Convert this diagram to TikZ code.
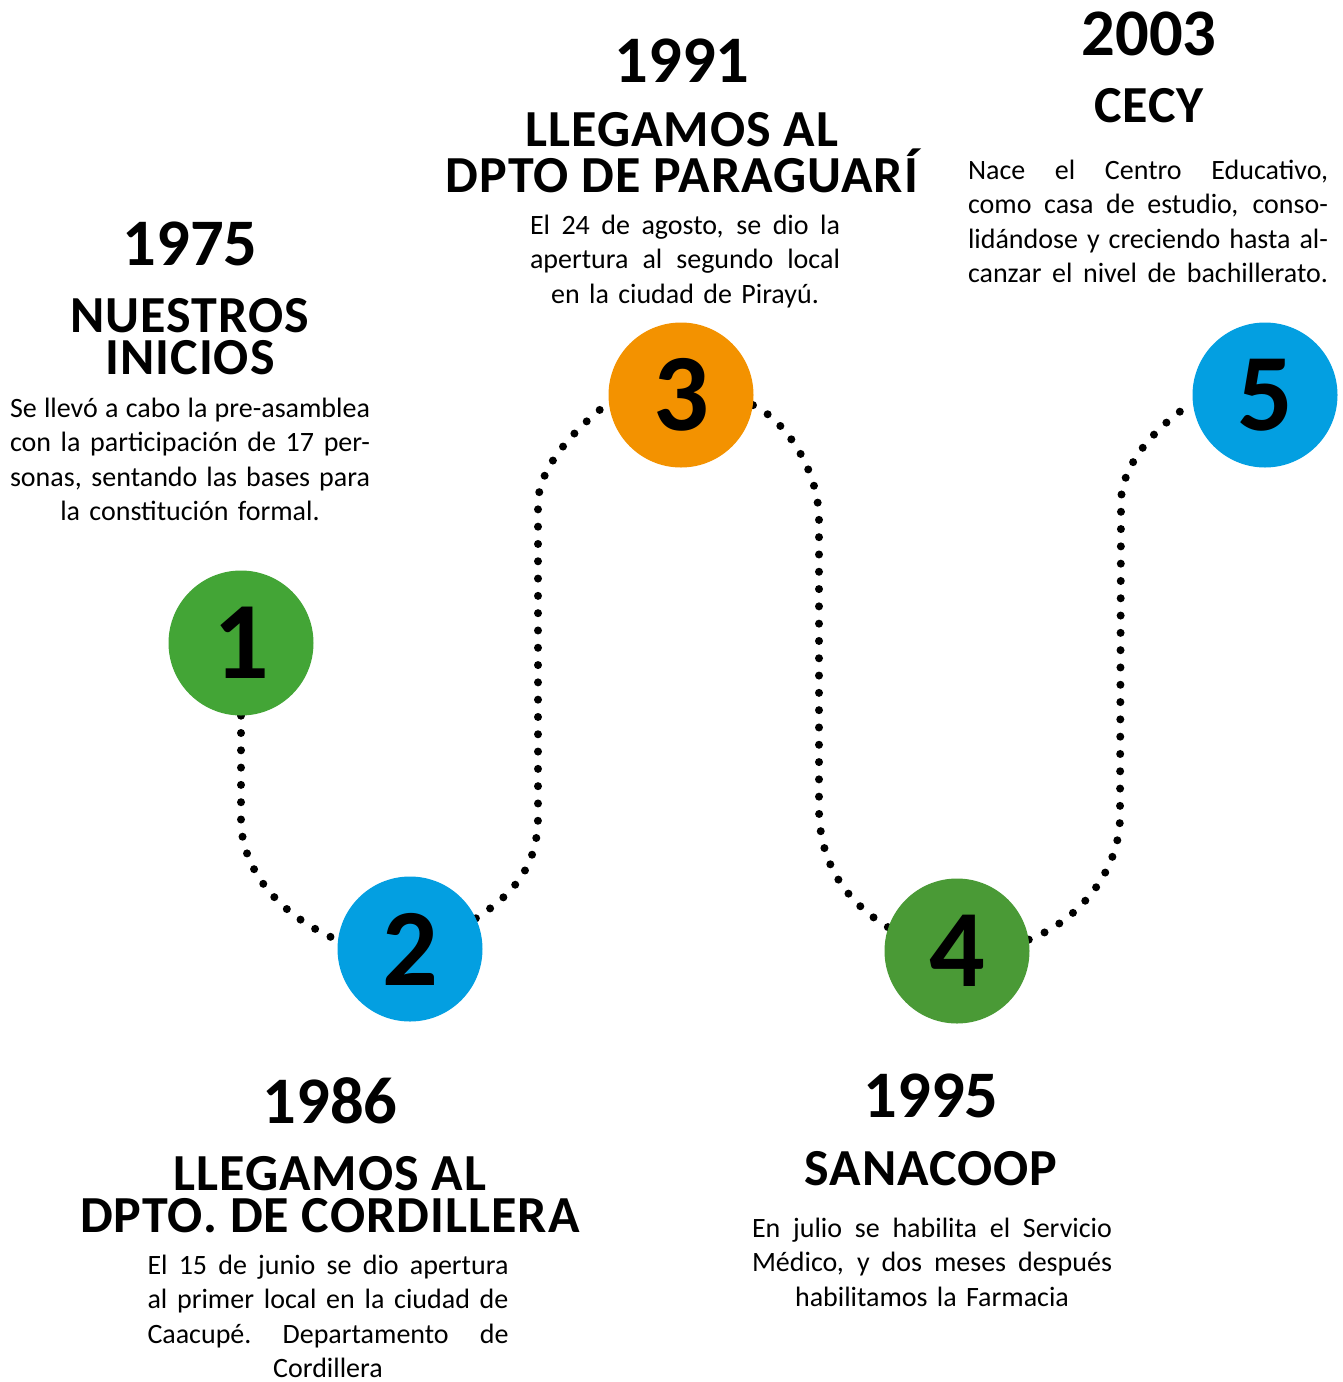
\documentclass[tikz,border=0pt]{standalone}
\usepackage{fontspec}
\setmainfont{Carlito}
\newfontfamily\headfont[LetterSpace=2]{Carlito}
\usetikzlibrary{backgrounds}
\definecolor{greenA}{HTML}{43A536}
\definecolor{greenB}{HTML}{4A9A36}
\definecolor{blueA}{HTML}{039FE1}
\definecolor{orangeA}{HTML}{F39200}
\newcommand{\jline}[1]{\leavevmode\hbox to\linewidth{\spaceskip=0.226em plus 1fil minus 0.1em\xspaceskip=\spaceskip\relax #1}}
\begin{document}
\begin{tikzpicture}[x=1pt, y=-1pt,
numcirc/.style={circle, inner sep=0pt, minimum size=145pt, font=\fontsize{110}{110}\selectfont\bfseries},
yearlbl/.style={anchor=base, inner sep=0pt, font=\fontsize{66.5}{66.5}\selectfont\bfseries},
headlbl/.style={anchor=base, inner sep=0pt, align=center, font=\headfont\fontsize{52}{42}\selectfont\bfseries},
bodylbl/.style={anchor=base, inner sep=0pt, align=center, font=\fontsize{28}{34.5}\selectfont},
dotline/.style={line width=8pt, dash pattern=on 0pt off 17.3pt, line cap=round}]
\useasboundingbox (0,0) rectangle (1343,1382);
\node [numcirc, fill=greenA] (c1) at (241,643) {1};
\node [numcirc, fill=blueA] (c2) at (410,949) {2};
\node [numcirc, fill=orangeA] (c3) at (681,395) {3};
\node [numcirc, fill=greenB] (c4) at (957,951) {4};
\node [numcirc, fill=blueA] (c5) at (1265,395) {5};
\begin{pgfonlayer}{background}
\draw[dotline] (c1.south) -- (241,820) .. controls (241,860) and (268,910) .. (c2.173);
\draw[dotline] (c2.25) .. controls (520,890) and (538,860) .. (538,816) -- (538,504) .. controls (538,470) and (570,433) .. (c3.186);
\draw[dotline] (c3.352) .. controls (785,420) and (819,470) .. (819,520) -- (819,808) .. controls (819,850) and (835,895) .. (c4.161);
\draw[dotline] (c4.9) .. controls (1080,920) and (1120,870) .. (1120,816) -- (1121,502) .. controls (1121,470) and (1148,432) .. (c5.186);
\end{pgfonlayer}
\node [yearlbl] (year1) at (190,265) {1975};
\node [headlbl] (head1) at (190,374) {NUESTROS\\INICIOS};
\node [bodylbl, text width=360pt] (text1) at (190,417) {\jline{Se llevó a cabo la pre-asamblea}\\\jline{con la participación de 17 per-}\\\jline{sonas, sentando las bases para}\\la constitución formal.};
\node [yearlbl] (year2) at (330,1123) {1986};
\node [headlbl] (head2) at (330,1232) {LLEGAMOS AL\\DPTO. DE CORDILLERA};
\node [bodylbl, text width=361pt] (text2) at (328,1274) {\jline{El 15 de junio se dio apertura}\\\jline{al primer local en la ciudad de}\\\jline{Caacupé. Departamento de}\\Cordillera};
\node [yearlbl] (year3) at (682,82) {1991};
\node [headlbl] (head3) at (682,192) {LLEGAMOS AL\\DPTO DE PARAGUARÍ};
\node [bodylbl, text width=310pt] (text3) at (685,234) {\jline{El 24 de agosto, se dio la}\\\jline{apertura al segundo local}\\en la ciudad de Pirayú.};
\node [yearlbl] (year4) at (931,1117) {1995};
\node [headlbl] (head4) at (931,1185) {SANACOOP};
\node [bodylbl, text width=360pt] (text4) at (932,1237) {\jline{En julio se habilita el Servicio}\\\jline{Médico, y dos meses después}\\habilitamos la Farmacia};
\node [yearlbl] (year5) at (1149,55) {2003};
\node [headlbl] (head5) at (1149,122) {CECY};
\node [bodylbl, text width=360pt] (text5) at (1148,179) {\jline{Nace el Centro Educativo,}\\\jline{como casa de estudio, conso-}\\\jline{lidándose y creciendo hasta al-}\\\jline{canzar el nivel de bachillerato.}};
\end{tikzpicture}
\end{document}
